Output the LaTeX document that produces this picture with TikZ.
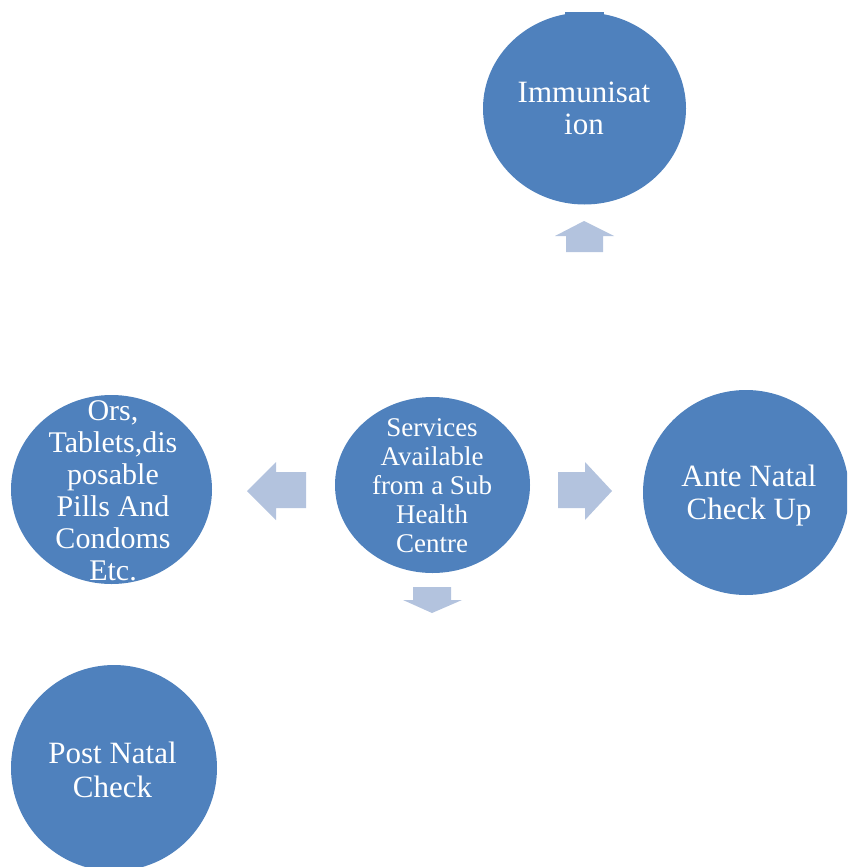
\documentclass[tikz,border=0pt]{standalone}
\usepackage{fontspec}
\setmainfont{Liberation Serif}
\usetikzlibrary{shapes.geometric}
\definecolor{bubblefill}{HTML}{4F81BD}
\definecolor{arrowfill}{HTML}{B3C3DE}
\begin{document}
\begin{tikzpicture}[x=1pt,y=-1pt,
  bubble/.style={ellipse, fill=bubblefill, inner sep=0pt, outer sep=0pt},
  lbl/.style={text=white, align=center, inner sep=0pt},
  blockarrow/.style={fill=arrowfill}]
\useasboundingbox (0,0) rectangle (847,867);
\clip (0,0) rectangle (847,867);
% circles
\node[bubble, minimum width=203pt, minimum height=192pt] (imm) at (584.5,108.5) {};
\fill[bubblefill] (565,12) rectangle (604,16);
\node[bubble, minimum width=195pt, minimum height=176pt] (ctr) at (432.5,485) {};
\node[bubble, minimum width=201pt, minimum height=189pt] (ors) at (111.5,489.5) {};
\node[bubble, minimum width=206pt, minimum height=205pt] (ante) at (746,492.5) {};
\node[bubble, minimum width=206pt, minimum height=206pt] (post) at (114,768) {};
% labels
\node[lbl, font=\fontsize{31}{32}\selectfont] (immtxt) at (584,108.5) {Immunisat\\ion};
\node[lbl, font=\fontsize{27}{29}\selectfont] (ctrtxt) at (432,485.5) {Services\\Available\\from a Sub\\Health\\Centre};
\node[lbl, font=\fontsize{30}{32}\selectfont] (orstxt) at (113,491) {Ors,\\Tablets,dis\\posable\\Pills And\\Condoms\\Etc.};
\node[lbl, font=\fontsize{31}{33}\selectfont] (antetxt) at (749,496) {Ante Natal\\Check Up};
\node[lbl, font=\fontsize{31}{34}\selectfont] (posttxt) at (112.5,769.8) {Post Natal\\Check};
% block arrows
\fill[blockarrow] (566,252) -- (566,236) -- (555,236) -- (584,221) -- (614,236) -- (603,236) -- (603,252) -- cycle;
\fill[blockarrow] (306,472) -- (276,472) -- (276,462) -- (247,491) -- (276,520) -- (276,508) -- (306,508) -- cycle;
\fill[blockarrow] (558,472) -- (585,472) -- (585,462) -- (612,491) -- (585,520) -- (585,508) -- (558,508) -- cycle;
\fill[blockarrow] (413,587) -- (451,587) -- (451,600) -- (462,600) -- (432,613) -- (403,600) -- (413,600) -- cycle;
\end{tikzpicture}
\end{document}
